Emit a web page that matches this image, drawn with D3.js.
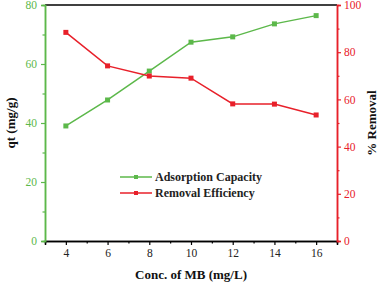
<!DOCTYPE html>
<html><head><meta charset="utf-8">
<script src="https://cdn.jsdelivr.net/npm/d3@7"></script>
<style>body{margin:0;background:#fff}svg{display:block}</style>
</head><body>
<script>
const conc = [4, 6, 8, 10, 12, 14, 16];
const capacity = [39.0, 47.8, 57.6, 67.4, 69.2, 73.6, 76.4];
const removal = [88.4, 74.2, 69.9, 69.0, 58.1, 58.0, 53.4];
const xTicks = [4, 6, 8, 10, 12, 14, 16];
const yLeftTicks = [0, 20, 40, 60, 80];
const yRightTicks = [0, 20, 40, 60, 80, 100];
const seriesNames = ["Adsorption Capacity", "Removal Efficiency"];

const W = 380, H = 289;
const m = {l: 45, r: 43, t: 5, b: 48};
const green = "#5cb84a", red = "#e8202a";
const font = "'Liberation Serif','DejaVu Serif',serif";

const svg = d3.select("body").append("svg").attr("width", W).attr("height", H)
  .style("font-family", font);

const x = d3.scaleLinear().domain([3, 17]).range([m.l, W - m.r]);
const yL = d3.scaleLinear().domain([0, 80]).range([H - m.b, m.t]);
const yR = d3.scaleLinear().domain([0, 100]).range([H - m.b, m.t]);

// top border
svg.append("line").attr("x1", m.l).attr("x2", W - m.r).attr("y1", m.t).attr("y2", m.t)
  .attr("stroke", "#000").attr("stroke-width", 1.5);

function styleAxis(g, color, size) {
  g.select(".domain").attr("stroke", color).attr("stroke-width", 1.5);
  g.selectAll(".tick line").attr("stroke", color).attr("stroke-width", 1.2);
  g.selectAll(".tick text").attr("fill", color).style("font-family", font).style("font-size", size + "px");
}

// minor ticks
const xMinor = [5, 7, 9, 11, 13, 15];
const gxm = svg.append("g").attr("transform", `translate(0,${H - m.b})`)
  .call(d3.axisBottom(x).tickValues(xMinor).tickSize(2.5).tickFormat(""));
styleAxis(gxm, "#000", 11);
const gx = svg.append("g").attr("transform", `translate(0,${H - m.b})`)
  .call(d3.axisBottom(x).tickValues(xTicks).tickSize(4).tickPadding(4));
styleAxis(gx, "#000", 11.5);
gx.selectAll(".tick text").attr("fill", "#222");

const gylm = svg.append("g").attr("transform", `translate(${m.l},0)`)
  .call(d3.axisLeft(yL).tickValues([10, 30, 50, 70]).tickSize(2.5).tickFormat(""));
styleAxis(gylm, green, 11);
const gyl = svg.append("g").attr("transform", `translate(${m.l},0)`)
  .call(d3.axisLeft(yL).tickValues(yLeftTicks).tickSize(4).tickPadding(4));
styleAxis(gyl, green, 11.5);

const gyrm = svg.append("g").attr("transform", `translate(${W - m.r},0)`)
  .call(d3.axisRight(yR).tickValues([10, 30, 50, 70, 90]).tickSize(2.5).tickFormat(""));
styleAxis(gyrm, red, 11);
const gyr = svg.append("g").attr("transform", `translate(${W - m.r},0)`)
  .call(d3.axisRight(yR).tickValues(yRightTicks).tickSize(4).tickPadding(3));
styleAxis(gyr, red, 11.5);

// series
function drawSeries(vals, yScale, color) {
  const pts = conc.map((c, i) => [x(c), yScale(vals[i])]);
  svg.append("path").attr("d", d3.line()(pts)).attr("fill", "none")
    .attr("stroke", color).attr("stroke-width", 1.5);
  svg.selectAll(null).data(pts).enter().append("rect")
    .attr("x", d => d[0] - 2.5).attr("y", d => d[1] - 2.5)
    .attr("width", 5).attr("height", 5).attr("fill", color);
}
drawSeries(capacity, yL, green);
drawSeries(removal, yR, red);

// axis titles
svg.append("text").attr("x", (m.l + W - m.r) / 2).attr("y", 279).attr("text-anchor", "middle")
  .style("font-size", "13px").style("font-weight", "bold").attr("fill", "#111")
  .text("Conc. of MB (mg/L)");
svg.append("text").attr("transform", `translate(15,${(m.t + H - m.b) / 2}) rotate(-90)`)
  .attr("text-anchor", "middle").style("font-size", "13px").style("font-weight", "bold").attr("fill", "#111")
  .text("qt (mg/g)");
svg.append("text").attr("transform", `translate(376,${(m.t + H - m.b) / 2}) rotate(-90)`)
  .attr("text-anchor", "middle").style("font-size", "13px").style("font-weight", "bold").attr("fill", "#111")
  .text("% Removal");

// legend
const legColors = [green, red];
seriesNames.forEach((n, i) => {
  const yy = 177 + i * 16;
  svg.append("line").attr("x1", 120).attr("x2", 152).attr("y1", yy).attr("y2", yy)
    .attr("stroke", legColors[i]).attr("stroke-width", 1.5);
  svg.append("rect").attr("x", 134).attr("y", yy - 2).attr("width", 4).attr("height", 4).attr("fill", legColors[i]);
  svg.append("text").attr("x", 155).attr("y", yy + 4).style("font-size", "12px").style("font-weight", "bold")
    .attr("fill", "#222").text(n);
});
</script>
</body></html>
